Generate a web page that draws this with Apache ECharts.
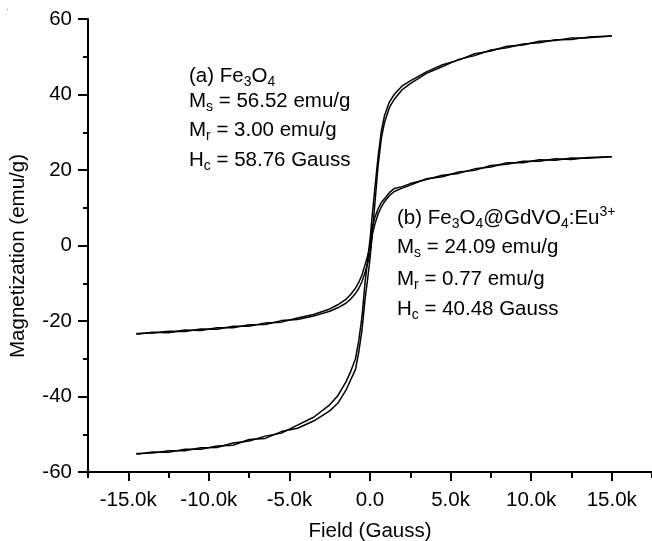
<!DOCTYPE html>
<html>
<head>
<meta charset="utf-8">
<script src="https://cdn.jsdelivr.net/npm/echarts@6/dist/echarts.min.js"></script>
<style>
html,body{margin:0;padding:0;background:#fff;}
#chart{width:652px;height:541px;}
</style>
</head>
<body>
<div id="chart"></div>
<script>
// Field values (Gauss)
const field = [-14500,-13500,-12500,-11500,-10500,-9500,-8500,-7500,-6500,-5500,-4500,-3500,-2500,-2000,-1500,-1200,-900,-700,-500,-300,-150,0,150,300,500,700,900,1200,1500,2000,2500,3500,4500,5500,6500,7500,8500,9500,10500,11500,12500,13500,15000];

// (a) Fe3O4 — ascending and descending branches (emu/g)
const magA_up = [-55.3,-54.7,-54.8,-54.0,-54.0,-53.1,-52.9,-51.4,-51.1,-49.3,-48.4,-46.5,-43.8,-41.8,-38.4,-35.6,-32.8,-28.3,-22.5,-14.0,-9.0,-3.5,3.5,11.0,21.0,28.3,32.6,36.5,38.7,41.3,42.9,45.6,47.4,49.3,50.3,51.8,52.4,53.4,53.7,54.5,54.6,55.2,55.5];
const magA_down = [-55.1,-55.0,-54.4,-54.4,-53.6,-53.5,-52.3,-51.8,-50.5,-49.7,-47.6,-45.5,-42.2,-39.8,-36.2,-33.4,-30.0,-25.3,-19.0,-9.5,-4.0,1.5,8.5,15.0,23.5,30.2,34.4,38.0,40.0,42.3,43.6,46.0,47.9,49.1,50.8,51.5,52.8,53.1,54.1,54.3,55.0,55.0,55.5];

// (b) Fe3O4@GdVO4:Eu3+ — ascending and descending branches (emu/g)
const magB_up = [-23.5,-23.0,-23.1,-22.4,-22.5,-21.8,-21.8,-21.0,-20.9,-19.9,-19.6,-18.7,-17.4,-16.5,-15.3,-14.2,-12.7,-11.4,-9.6,-7.0,-4.8,-2.0,3.0,5.6,8.3,10.2,11.6,13.2,14.3,15.2,16.0,17.7,18.2,19.5,19.9,21.2,21.5,22.3,22.3,23.0,22.8,23.3,23.5];
const magB_down = [-23.3,-23.2,-22.7,-22.8,-22.1,-22.2,-21.4,-21.4,-20.5,-20.3,-19.2,-18.3,-16.8,-15.7,-14.3,-13.0,-11.3,-9.8,-7.8,-5.0,-2.8,0.0,5.0,7.4,9.7,11.4,12.4,14.0,15.1,15.6,16.4,17.5,18.6,19.1,20.3,20.8,21.9,21.9,22.7,22.6,23.2,23.1,23.5];

// Ticks
const xMajorTicks = [-15000,-10000,-5000,0,5000,10000,15000];
const xMinorTicks = [-17500,-12500,-7500,-2500,2500,7500,12500,17500];
const xTickLabels = ['-15.0k','-10.0k','-5.0k','0.0','5.0k','10.0k','15.0k'];
const yTickLabels = ['-60','-40','-20','0','20','40','60'];

const FONT = '"Liberation Sans", Arial, Helvetica, sans-serif';
const FS = 20.5;

function pairs(xs, ys){ return xs.map((x,i)=>[x, ys[i]]); }

const chart = echarts.init(document.getElementById('chart'), null, {renderer:'canvas'});

const lineSeries = (data) => ({
  type:'line', xAxisIndex:0, yAxisIndex:0, data: data,
  symbol:'none', smooth:false,
  lineStyle:{color:'#000', width:1.5}
});

const rich = {
  n:{fontSize:FS, fontFamily:FONT, lineHeight:26, fill:'#000'},
  s:{fontSize:14, fontFamily:FONT, lineHeight:13, verticalAlign:'bottom', fill:'#000'},
  p:{fontSize:14, fontFamily:FONT, lineHeight:13, verticalAlign:'top', fill:'#000'}
};
function txt(x, y, t){
  return {type:'text', x:x, y:y, silent:true,
    style:{text:t, rich:rich, align:'left', verticalAlign:'middle', fontSize:FS, fontFamily:FONT, fill:'#000'}};
}

const option = {
  animation:false,
  backgroundColor:'#fff',
  grid:{left:88, right:0, top:19, bottom:69, containLabel:false},
  xAxis:[{
    type:'value', min:-17500, max:17500, interval:2500, position:'bottom',
    axisLine:{show:true, onZero:false, lineStyle:{color:'#000', width:2}},
    axisTick:{show:true, customValues:xMajorTicks, length:9, lineStyle:{color:'#000', width:2}},
    axisLabel:{show:true, customValues:xMajorTicks, margin:18, fontSize:FS, fontFamily:FONT, color:'#000',
      formatter:(v)=>{ const i = xMajorTicks.indexOf(v); return i>=0 ? xTickLabels[i] : ''; }},
    splitLine:{show:false}
  },{
    type:'value', min:-17500, max:17500, interval:2500, position:'bottom',
    axisLine:{show:false, onZero:false},
    axisTick:{show:true, customValues:xMinorTicks, length:6, lineStyle:{color:'#000', width:2}},
    axisLabel:{show:false},
    splitLine:{show:false}
  }],
  yAxis:{
    type:'value', min:-60, max:60, interval:20,
    axisLine:{show:true, onZero:false, lineStyle:{color:'#000', width:2}},
    axisTick:{show:true, length:10, lineStyle:{color:'#000', width:2}},
    minorTick:{show:true, splitNumber:2, length:5, lineStyle:{color:'#000', width:2}},
    axisLabel:{margin:16, fontSize:FS, fontFamily:FONT, color:'#000',
      formatter:(v)=>{ const i = Math.round((v+60)/20); return yTickLabels[i]; }},
    splitLine:{show:false}
  },
  series:[
    lineSeries(pairs(field, magA_up)),
    lineSeries(pairs(field, magA_down)),
    lineSeries(pairs(field, magB_up)),
    lineSeries(pairs(field, magB_down))
  ],
  graphic:[
    {type:'text', x:18, y:256, rotation:Math.PI/2, silent:true,
      style:{text:'Magnetization (emu/g)', fontSize:FS, fontFamily:FONT, fill:'#000', align:'center', verticalAlign:'middle'}},
    {type:'text', x:370, y:531, silent:true,
      style:{text:'Field (Gauss)', fontSize:FS, fontFamily:FONT, fill:'#000', align:'center', verticalAlign:'middle'}},
    txt(189, 76, '{n|(a) Fe}{s|3}{n|O}{s|4}'),
    txt(189, 101, '{n|M}{s|s}{n| = 56.52 emu/g}'),
    txt(189, 130, '{n|M}{s|r}{n| = 3.00 emu/g}'),
    txt(189, 160, '{n|H}{s|c}{n| = 58.76 Gauss}'),
    txt(397, 218, '{n|(b) Fe}{s|3}{n|O}{s|4}{n|@GdVO}{s|4}{n|:Eu}{p|3+}'),
    txt(397, 247, '{n|M}{s|s}{n| = 24.09 emu/g}'),
    txt(397, 279, '{n|M}{s|r}{n| = 0.77 emu/g}'),
    txt(397, 309, '{n|H}{s|c}{n| = 40.48 Gauss}'),
    {type:'rect', shape:{x:7, y:9, width:1, height:1}, style:{fill:'#888'}, silent:true}
  ]
};
chart.setOption(option);
</script>
</body>
</html>
